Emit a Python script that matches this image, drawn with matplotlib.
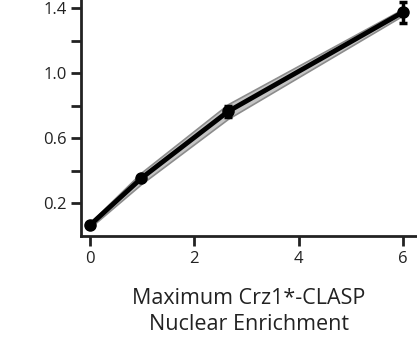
import numpy as np
import matplotlib.pyplot as plt

plt.rcParams['font.family'] = ['Open Sans', 'DejaVu Sans']

# Enrichment vs. response, mean with error and spread band
enrichment = [0.0, 0.99, 2.65, 6.0]
response = [0.065, 0.355, 0.765, 1.375]
err = [0.0, 0.01, 0.035, 0.065]
band_lo = [0.05, 0.32, 0.72, 1.355]
band_hi = [0.08, 0.39, 0.81, 1.395]

fig = plt.figure(figsize=(4.17, 3.39), dpi=100)
ax = fig.add_axes([0.194, 0.304, 0.806, 0.696])

ax.fill_between(enrichment, band_lo, band_hi, facecolor='#c4c4c4',
                edgecolor='#8c8c8c', linewidth=1.2, zorder=1)
ax.errorbar(enrichment, response, yerr=err, color='black', linewidth=3.5,
            marker='o', markersize=8, elinewidth=2.5, capsize=3, capthick=2.5,
            zorder=3)

ax.set_xlim(-0.17, 6.27)
ax.set_ylim(0.0, 1.45)
ax.set_xticks([0, 2, 4, 6])
ax.set_yticks([0.2, 0.6, 1.0, 1.4])
ax.set_yticklabels(['0.2', '0.6', '1.0', '1.4'])
ax.set_yticks([0.4, 0.8, 1.2], minor=True)

for side in ['top', 'right']:
    ax.spines[side].set_visible(False)
for side in ['left', 'bottom']:
    ax.spines[side].set_linewidth(2)
    ax.spines[side].set_color('#222222')

ax.tick_params(which='major', length=7, width=2, color='#222222',
               labelsize=12, labelcolor='#222222')
ax.tick_params(axis='x', which='major', pad=4)
ax.tick_params(axis='y', which='major', pad=3)
ax.tick_params(which='minor', length=7, width=2, color='#222222')

ax.set_xlabel('Maximum Crz1*-CLASP\nNuclear Enrichment', fontsize=15.5,
              color='#222222', labelpad=15, linespacing=1.3)

fig.savefig('out.png', dpi=100)
